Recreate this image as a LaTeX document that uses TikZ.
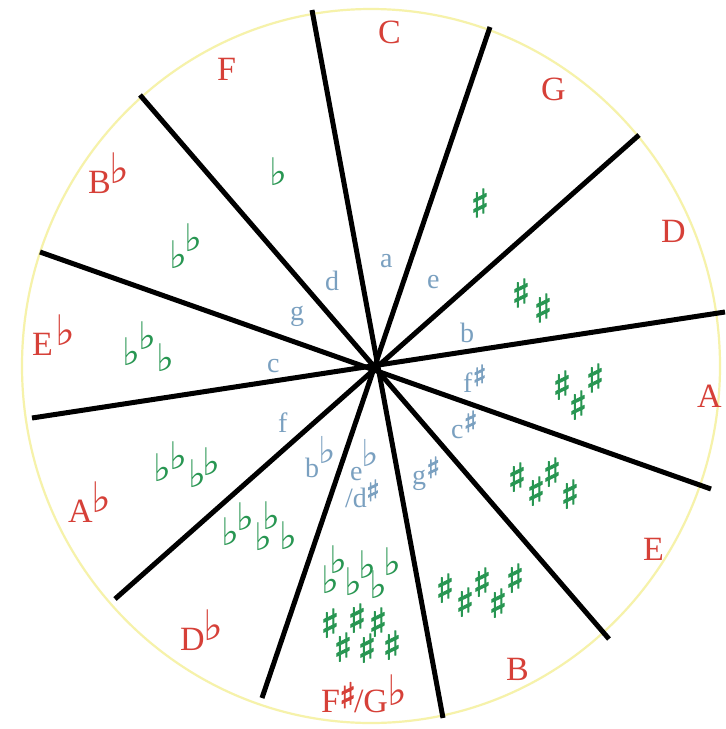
\documentclass[tikz,border=0pt]{standalone}
\usepackage{fontspec}
\setmainfont{Liberation Serif}
\newfontfamily\accf{DejaVu Sans}
\newfontfamily\accfb[FakeBold=2.5]{DejaVu Sans}
\definecolor{keyred}{RGB}{214,64,56}
\definecolor{minblue}{RGB}{122,160,192}
\definecolor{accgreen}{RGB}{40,150,82}
\definecolor{rimyellow}{RGB}{246,242,170}
% raised accidentals
\newcommand\Rfl{\raisebox{10pt}{\accf\fontsize{42}{42}\selectfont ♭}}
\newcommand\Rsh{\raisebox{4pt}{\accfb\fontsize{35}{35}\selectfont ♯}}
\newcommand\Bfl{\raisebox{14pt}{\accf\fontsize{37}{37}\selectfont ♭}}
\newcommand\Bsh{\raisebox{6pt}{\accfb\fontsize{29}{29}\selectfont ♯}}
\begin{document}
\begin{tikzpicture}[x=1pt,y=-1pt,
  major/.style={text=keyred, font=\fontsize{34}{34}\selectfont, anchor=base west, inner sep=0pt},
  minor/.style={text=minblue, font=\fontsize{28}{28}\selectfont, anchor=base west, inner sep=0pt},
  flatmark/.style={text=accgreen, font=\accf\fontsize{38}{38}\selectfont, anchor=center, inner sep=0pt},
  sharpmark/.style={text=accgreen, font=\accfb\fontsize{39}{39}\selectfont, anchor=center, inner sep=0pt},
  spoke/.style={line width=5pt, black},
  rim/.style={draw=rimyellow, line width=2.2pt}]
\useasboundingbox (0,0) rectangle (726,729);
\fill[white] (0,0) rectangle (726,729);
% rim
\draw[rim] (371,366) ellipse [x radius=349, y radius=357];
% spokes
\coordinate (s1a) at (312,10);  \coordinate (s1b) at (443,718);
\coordinate (s2a) at (490,27);  \coordinate (s2b) at (262,698);
\coordinate (s3a) at (639,135); \coordinate (s3b) at (115,599);
\coordinate (s4a) at (725,312); \coordinate (s4b) at (32,418);
\coordinate (s5a) at (40,252);  \coordinate (s5b) at (711,489);
\coordinate (s6a) at (140,95);  \coordinate (s6b) at (609,639);
\foreach \k in {1,...,6} \draw[spoke] (s\k a) -- (s\k b);
% major keys
\node[major] (kC) at (378,43) {C};
\node[major] (kG) at (541,100) {G};
\node[major] (kD) at (661,242) {D};
\node[major] (kA) at (697,407) {A};
\node[major] (kE) at (643,560) {E};
\node[major] (kB) at (506,680) {B};
\node[major] (kFs) at (321,712) {F\kern-1pt\Rsh\kern-2pt/G\kern-1pt\raisebox{-3pt}{\Rfl}};
\node[major] (kDb) at (180,650) {D\kern-1pt\Rfl};
\node[major] (kAb) at (68,522) {A\kern-1pt\Rfl};
\node[major] (kEb) at (32,355) {E\kern3pt\Rfl};
\node[major] (kBb) at (88,193) {B\kern-1pt\Rfl};
\node[major] (kF) at (217,80) {F};
% minor keys
\node[minor] (ma) at (380,267) {a};
\node[minor] (me) at (427,288) {e};
\node[minor] (mb) at (460,342) {b};
\node[minor] (mfs) at (463,392) {f\Bsh};
\node[minor] (mcs) at (451,438) {c\Bsh};
\node[minor] (mgs) at (412,484) {g\Bsh};
\node[minor] (meb) at (350,480) {e\kern-1pt\Bfl};
\node[minor] (mds) at (345,507) {/d\kern-1pt\Bsh};
\node[minor] (mbb) at (305,477) {b\kern-1pt\Bfl};
\node[minor] (mf) at (278,432) {f};
\node[minor] (mc) at (267,372) {c};
\node[minor] (mg) at (290,320) {g};
\node[minor] (md) at (325,290) {d};
% flats
\foreach \x/\y [count=\i] in {278/172,
  178/255, 193/238,
  131/352, 147/336, 165/358,
  162/468, 178/456, 197/474, 211/462,
  230/532, 245/517, 263/537, 271/516, 288/536,
  330/580, 338/560, 353/582, 367/565, 378/585, 392/562}
  \node[flatmark] (fl\i) at (\x,\y) {♭};
% sharps
\foreach \x/\y [count=\i] in {480/203,
  521/293, 543/308,
  562/385, 578/405, 595/378,
  517/477, 536/491, 552/472, 570/494,
  445/588, 465/602, 482/582, 498/603, 515/578,
  330/623, 343/647, 357/618, 367/648, 378/622, 392/645}
  \node[sharpmark] (sh\i) at (\x,\y) {♯};
\end{tikzpicture}
\end{document}
